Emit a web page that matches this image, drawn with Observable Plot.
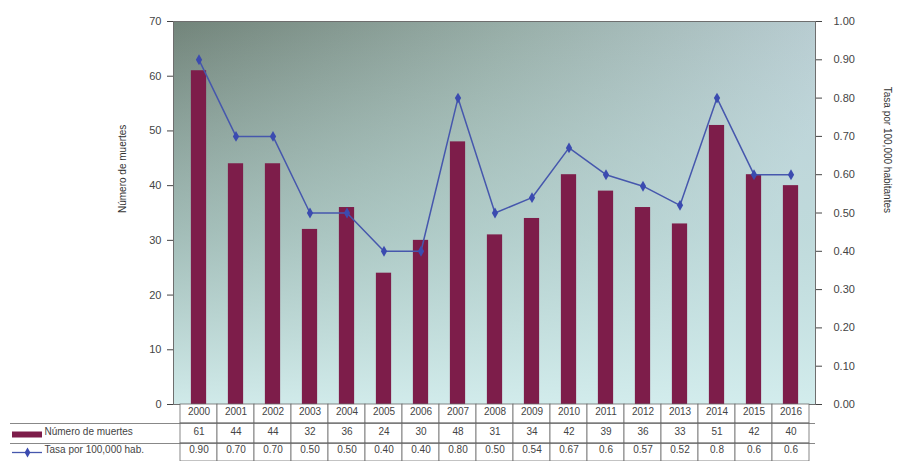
<!DOCTYPE html>
<html><head><meta charset="utf-8">
<script src="https://cdn.jsdelivr.net/npm/d3@7"></script>
<script src="https://cdn.jsdelivr.net/npm/@observablehq/plot@0.6"></script>
<style>body{margin:0;background:#fff;} svg{display:block}</style>
</head><body><div id="chart"></div>
<script>
const years = ["2000","2001","2002","2003","2004","2005","2006","2007","2008","2009","2010","2011","2012","2013","2014","2015","2016"];
const deaths = [61,44,44,32,36,24,30,48,31,34,42,39,36,33,51,42,40];
const rates = [0.90,0.70,0.70,0.50,0.50,0.40,0.40,0.80,0.50,0.54,0.67,0.6,0.57,0.52,0.8,0.6,0.6];
const rateLabels = ["0.90","0.70","0.70","0.50","0.50","0.40","0.40","0.80","0.50","0.54","0.67","0.6","0.57","0.52","0.8","0.6","0.6"];
const leftTicks = [0,10,20,30,40,50,60,70];
const rightTickLabels = ["0.00","0.10","0.20","0.30","0.40","0.50","0.60","0.70","0.80","0.90","1.00"];
const rightTicks = [0,0.1,0.2,0.3,0.4,0.5,0.6,0.7,0.8,0.9,1.0];
const COUNT_MAX = 70, RATE_MAX = 1.0;
const seriesNames = ["Número de muertes","Tasa por 100,000 hab."];
const leftTitle = "Número de muertes";
const rightTitle = "Tasa por 100,000 habitantes";

const data = years.map((year, i) => ({year, deaths: deaths[i], rate: rates[i], rateLabel: rateLabels[i]}));
const toLeft = r => r * COUNT_MAX / RATE_MAX;

const W = 899, H = 461, ML = 173, MR = 84, MT = 21, MB = 57;
const bandW = (W - ML - MR) / years.length;
const barInset = (bandW - 16) / 2;
const maroon = "#7d1d4a", blue = "#4657ad", txt = "#444";

const defs = () => {
  const d = d3.create("svg:defs");
  const h = d.append("linearGradient").attr("id", "bgH")
    .attr("x1", 0).attr("y1", 0).attr("x2", 1).attr("y2", 0.25);
  h.append("stop").attr("offset", 0).attr("stop-color", "#72847a");
  h.append("stop").attr("offset", 0.5).attr("stop-color", "#98aea8");
  h.append("stop").attr("offset", 1).attr("stop-color", "#bcd0d6");
  const v = d.append("linearGradient").attr("id", "bgV")
    .attr("x1", 0).attr("y1", 0).attr("x2", 0).attr("y2", 1);
  v.append("stop").attr("offset", 0).attr("stop-color", "#c6e6e4").attr("stop-opacity", 0);
  v.append("stop").attr("offset", 0.55).attr("stop-color", "#c2e2e0").attr("stop-opacity", 0.55);
  v.append("stop").attr("offset", 1).attr("stop-color", "#d4eeee").attr("stop-opacity", 0.95);
  return d.node();
};

const rowTop = [0, 19, 39], rowBot = [19, 39, 57];
const cellRow = (k) => Plot.barY(data, {x: "year", y1: () => 0, y2: () => 0,
  insetTop: rowTop[k], insetBottom: -rowBot[k], insetLeft: 0, insetRight: 0,
  fill: "white", stroke: "#6a6a6a", strokeWidth: 0.8});

const chart = Plot.plot({
  width: W, height: H,
  marginLeft: ML, marginRight: MR, marginTop: MT, marginBottom: MB,
  style: {fontFamily: "'Liberation Sans', Arial, sans-serif", background: "white", overflow: "visible"},
  x: {type: "band", domain: years, padding: 0, axis: null},
  y: {domain: [0, COUNT_MAX], axis: null},
  marks: [
    defs,
    Plot.frame({fill: "url(#bgH)"}),
    Plot.frame({fill: "url(#bgV)"}),
    Plot.barY(data, {x: "year", y: "deaths", fill: maroon, insetLeft: barInset, insetRight: barInset}),
    Plot.line(data, {x: "year", y: d => toLeft(d.rate), stroke: blue, strokeWidth: 1.5}),
    Plot.dot(data, {x: "year", y: d => toLeft(d.rate), symbol: "diamond", fill: "#3b4bb0", r: 3.3}),
    Plot.frame({stroke: "#6e6e6e", strokeWidth: 1}),
    Plot.axisY(leftTicks, {anchor: "left", tickSize: 6, tickPadding: 6, fontSize: 11, color: txt, label: null}),
    Plot.axisY(rightTicks.map(toLeft), {anchor: "right", tickSize: 6, tickPadding: 12, fontSize: 11, color: txt, label: null,
      tickFormat: d => rightTickLabels[rightTicks.findIndex(t => Math.abs(toLeft(t) - d) < 1e-9)]}),
    Plot.text([leftTitle], {frameAnchor: "left", dx: -51, rotate: -90, fontSize: 10, fill: "#333"}),
    Plot.text([rightTitle], {frameAnchor: "right", dx: 72, rotate: 90, fontSize: 10, fill: "#333"}),
    // data table
    cellRow(0), cellRow(1), cellRow(2),
    Plot.ruleY([0], {dy: 19, insetLeft: -(ML - 10), stroke: "#6a6a6a", strokeWidth: 0.8}),
    Plot.ruleY([0], {dy: 39, insetLeft: -(ML - 10), stroke: "#6a6a6a", strokeWidth: 0.8}),
    Plot.text(data, {x: "year", text: "year", frameAnchor: "bottom", dy: 10, fontSize: 10, fill: txt}),
    Plot.text(data, {x: "year", text: d => String(d.deaths), frameAnchor: "bottom", dy: 30, fontSize: 10, fill: txt}),
    Plot.text(data, {x: "year", text: "rateLabel", frameAnchor: "bottom", dy: 48, fontSize: 10, fill: txt}),
    // legend
    Plot.ruleY([0], {dy: 30, insetLeft: -(ML - 12), insetRight: (W - MR) - 42, stroke: maroon, strokeWidth: 6}),
    Plot.text([seriesNames[0]], {frameAnchor: "bottom-left", dx: 44 - ML, dy: 30, textAnchor: "start", fontSize: 10, fill: txt}),
    Plot.ruleY([0], {dy: 48, insetLeft: -(ML - 12), insetRight: (W - MR) - 42, stroke: blue, strokeWidth: 1.3}),
    Plot.dot([0], {frameAnchor: "bottom-left", dx: 27 - ML, dy: 48, symbol: "diamond", fill: "#3b4bb0", r: 3}),
    Plot.text([seriesNames[1]], {frameAnchor: "bottom-left", dx: 44 - ML, dy: 48, textAnchor: "start", fontSize: 10, fill: txt})
  ]
});
document.getElementById("chart").append(chart);
</script>
</body></html>
